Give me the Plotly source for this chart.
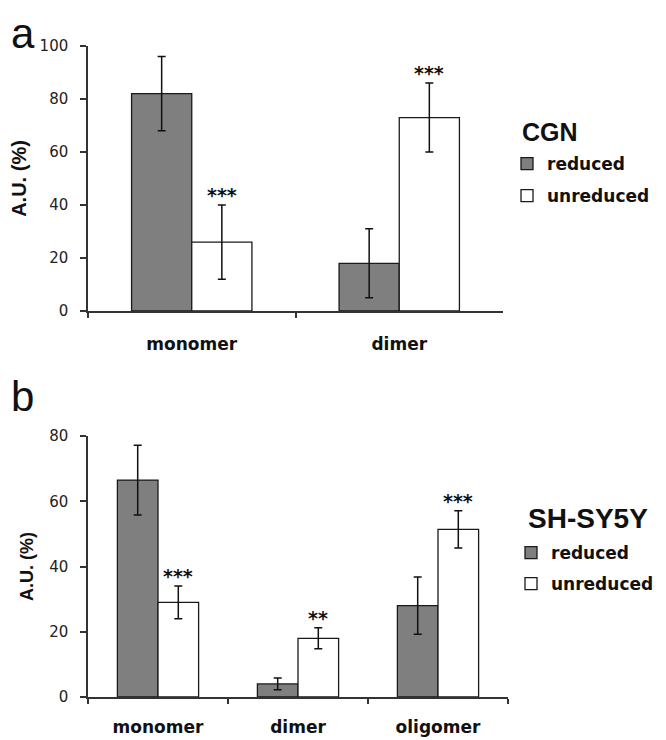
import plotly.graph_objects as go

# ---------------- data ----------------
cgn_categories = ["monomer", "dimer"]
cgn_reduced = [82, 18]
cgn_reduced_err = [14, 13]
cgn_unreduced = [26, 73]
cgn_unreduced_err = [14, 13]
cgn_stars = ["***", "***"]

sh_categories = ["monomer", "dimer", "oligomer"]
sh_reduced = [66.5, 4, 28]
sh_reduced_err = [10.7, 1.8, 8.8]
sh_unreduced = [29, 18, 51.4]
sh_unreduced_err = [5, 3.2, 5.7]
sh_stars = ["***", "**", "***"]

series_names = ["reduced", "unreduced"]
panel_titles = ["CGN", "SH-SY5Y"]
panel_letters = ["a", "b"]

# ---------------- layout constants ----------------
OFF = 8                      # page body margin
FW, FH = 666 - OFF, 740 - OFF
GRAY = "#7f7f7f"
EDGE = "#1a1a1a"
AX = "#333333"
BARGAP = 0.42


def px2x(x):
    return (x - OFF) / FW


def px2y(y):
    return 1 - (y - OFF) / FH


top_xdom = [px2x(88), px2x(503)]
top_ydom = [px2y(311), px2y(46)]
bot_xdom = [px2x(88), px2x(508)]
bot_ydom = [px2y(697), px2y(436)]

fig = go.Figure()


def add_panel(cats, red, red_err, unr, unr_err, xa, ya, leg, grp):
    fig.add_trace(go.Bar(
        x=cats, y=red, name=series_names[0], xaxis=xa, yaxis=ya, legend=leg,
        legendgroup=grp + "r",
        marker=dict(color=GRAY, line=dict(color=EDGE, width=1.3)),
        error_y=dict(type="data", array=red_err, color="#111", thickness=1.5, width=4),
    ))
    fig.add_trace(go.Bar(
        x=cats, y=unr, name=series_names[1], xaxis=xa, yaxis=ya, legend=leg,
        legendgroup=grp + "u",
        marker=dict(color="white", line=dict(color=EDGE, width=1.3)),
        error_y=dict(type="data", array=unr_err, color="#111", thickness=1.5, width=4),
    ))


add_panel(cgn_categories, cgn_reduced, cgn_reduced_err, cgn_unreduced, cgn_unreduced_err,
          "x", "y", "legend", "a")
add_panel(sh_categories, sh_reduced, sh_reduced_err, sh_unreduced, sh_unreduced_err,
          "x2", "y2", "legend2", "b")

tickfont = dict(family="DejaVu Sans", size=15, color="#222")
catfont = dict(family="DejaVu Sans", size=17, color="#111", weight="bold")


def yaxis(dom, rng, dtick, xa, title_size, standoff):
    return dict(domain=dom, range=rng, dtick=dtick, anchor=xa, automargin=False,
                showline=True, linecolor=AX, linewidth=1.5,
                ticks="outside", ticklen=6, tickcolor=AX, tickwidth=1.5,
                showgrid=False, zeroline=False, tickfont=tickfont,
                ticklabelstandoff=9,
                title=dict(text="A.U. (%)", standoff=standoff,
                           font=dict(family="Liberation Sans", size=title_size,
                                     color="#111", weight="bold")))


def xaxis(dom, ya, standoff):
    return dict(domain=dom, anchor=ya, automargin=False,
                showline=True, linecolor=AX, linewidth=1.5,
                ticks="outside", tickson="boundaries", ticklen=5, tickcolor=AX,
                tickwidth=1.5, showgrid=False, tickfont=catfont,
                ticklabelstandoff=standoff)


annotations = []


def add_stars(cats, vals, errs, stars, xa, ya, xdom):
    cat_px = (xdom[1] - xdom[0]) * FW / len(cats)
    shift = cat_px * (1 - BARGAP) / 4
    for c, v, e, s in zip(cats, vals, errs, stars):
        annotations.append(dict(
            x=c, y=v + e, xref=xa, yref=ya, text=s, showarrow=False,
            xanchor="center", yanchor="bottom", xshift=shift, yshift=-3,
            font=dict(family="DejaVu Sans", size=19, color="#111", weight="bold")))


add_stars(cgn_categories, cgn_unreduced, cgn_unreduced_err, cgn_stars, "x", "y", top_xdom)
add_stars(sh_categories, sh_unreduced, sh_unreduced_err, sh_stars, "x2", "y2", bot_xdom)

# panel letters
annotations.append(dict(x=px2x(9), y=px2y(8), xref="paper", yref="paper",
                        text=panel_letters[0], showarrow=False,
                        xanchor="left", yanchor="top",
                        font=dict(family="Liberation Sans", size=42, color="#111")))
annotations.append(dict(x=px2x(9), y=px2y(371), xref="paper", yref="paper",
                        text=panel_letters[1], showarrow=False,
                        xanchor="left", yanchor="top",
                        font=dict(family="Liberation Sans", size=42, color="#111")))

# legend headings
annotations.append(dict(x=px2x(520), y=px2y(132), xref="paper", yref="paper",
                        text=panel_titles[0], showarrow=False,
                        xanchor="left", yanchor="middle",
                        font=dict(family="Liberation Sans", size=25, color="#111",
                                  weight="bold")))
annotations.append(dict(x=px2x(526), y=px2y(518), xref="paper", yref="paper",
                        text=panel_titles[1], showarrow=False,
                        xanchor="left", yanchor="middle",
                        font=dict(family="Liberation Sans", size=28, color="#111",
                                  weight="bold")))

legfont = dict(family="DejaVu Sans", size=17, color="#111", weight="bold")

fig.update_layout(
    width=FW, height=FH,
    margin=dict(l=0, r=0, t=0, b=0, autoexpand=False),
    paper_bgcolor="white", plot_bgcolor="white",
    barmode="group", bargap=BARGAP, bargroupgap=0,
    xaxis=xaxis(top_xdom, "y", 17),
    yaxis=yaxis(top_ydom, [0, 100], 20, "x", 20, 11),
    xaxis2=xaxis(bot_xdom, "y2", 14),
    yaxis2=yaxis(bot_ydom, [0, 80], 20, "x2", 18, 11),
    legend=dict(x=px2x(507), y=px2y(146), xanchor="left", yanchor="top",
                font=legfont, traceorder="grouped", tracegroupgap=7,
                bgcolor="rgba(0,0,0,0)"),
    legend2=dict(x=px2x(511), y=px2y(535), xanchor="left", yanchor="top",
                 font=legfont, traceorder="grouped", tracegroupgap=6,
                 bgcolor="rgba(0,0,0,0)"),
    annotations=annotations,
    showlegend=True,
)

fig.write_html("out.html")
